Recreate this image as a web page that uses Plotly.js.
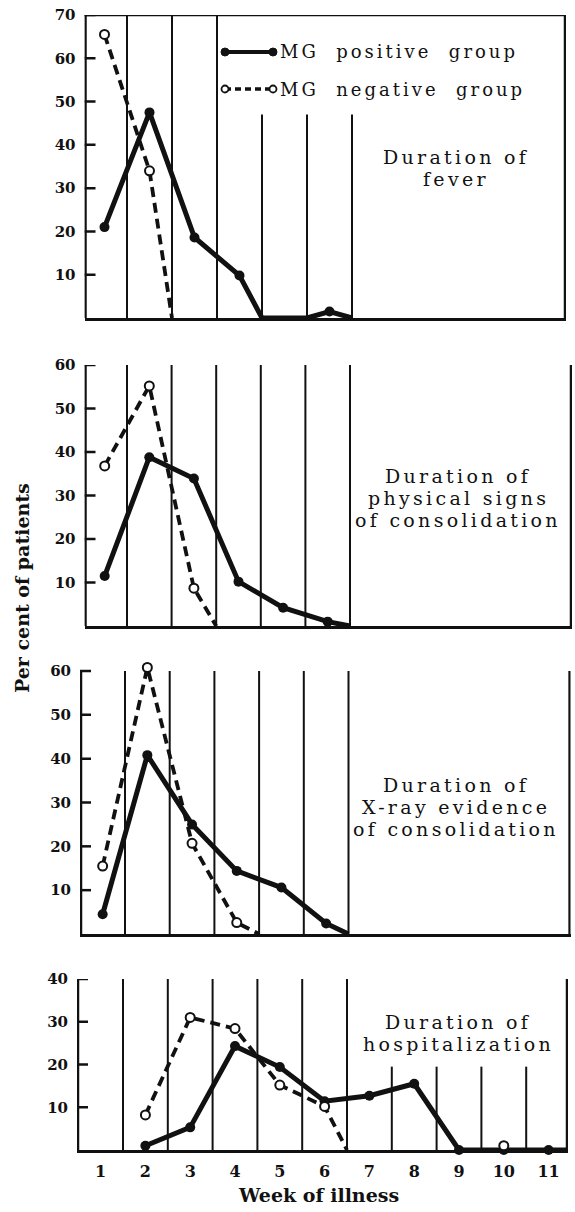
<!DOCTYPE html>
<html><head><meta charset="utf-8">
<script src="https://cdn.plot.ly/plotly-3.0.1.min.js"></script>
<style>
html,body{margin:0;padding:0;background:#fff;}
#chart{width:575px;height:1212px;}
</style></head><body><div id="chart"></div>
<script>
// ---- data ----
const weekTicks = [1,2,3,4,5,6,7,8,9,10,11];
const weekTickLabels = ['1','2','3','4','5','6','7','8','9','10','11'];

const feverPosWeek = [1,2,3,4,4.5,5.5,6,6.5];
const feverPosPct  = [21,47.5,18.6,9.8,0,0,1.5,0];
const feverNegWeek = [1,2,2.5];
const feverNegPct  = [65.5,34,0];

const physPosWeek = [1,2,3,4,5,6,6.5];
const physPosPct  = [11.5,38.8,33.9,10.2,4.2,1,0];
const physNegWeek = [1,2,3,3.5];
const physNegPct  = [36.8,55.2,8.7,0];

const xrayPosWeek = [1,2,3,4,5,6,6.5];
const xrayPosPct  = [4.5,40.8,25,14.4,10.6,2.4,0];
const xrayNegWeek = [1,2,3,4,4.5];
const xrayNegPct  = [15.5,60.8,20.7,2.6,0];

const hospPosWeek = [2,3,4,5,6,7,8,9,10,11,11.5];
const hospPosPct  = [1,5.3,24.3,19.4,11.4,12.7,15.5,0,0,0,0];
const hospNegWeek = [2,3,4,5,6,6.5,null,10];
const hospNegPct  = [8.2,31,28.4,15.2,10.2,0,null,1];

const panelLabels = [
  ['Duration of','fever'],
  ['Duration of','physical signs','of consolidation'],
  ['Duration of','X-ray evidence','of consolidation'],
  ['Duration of','hospitalization']
];
const legendLabels = ['MG  positive  group','MG  negative  group'];
const yTitle = 'Per cent of patients';
const xTitle = 'Week of illness';

// ---- layout geometry (pixels) ----
const W = 575, H = 1212;
const fx = p => p / W, fy = p => 1 - p / H;
const geom = [
  {left:84.5, right:566,   p15:127, p65:352,   top:15,  bottom:318,  ymax:70, head:0, box:true,
   full:[1.5,2.5,3.5], short:[4.5,5.5,6.5], shortTop:47, label:{x:456, y:168}},
  {left:84.5, right:572,   p15:127, p65:350,   top:365, bottom:626,  ymax:60, head:0,
   full:[1.5,2.5,3.5,4.5,5.5,6.5], short:[], shortTop:0, label:{x:458, y:498}},
  {left:80,   right:570.6, p15:125, p65:348.5, top:671, bottom:934,  ymax:60, head:1.6,
   full:[1.5,2.5,3.5,4.5,5.5,6.5], short:[], shortTop:0, label:{x:456, y:807}},
  {left:77,   right:568,   p15:123, p65:347,   top:979, bottom:1150, ymax:40, head:0,
   full:[1.5,2.5,3.5,4.5,5.5,6.5], short:[7.5,8.5,9.5,10.5], shortTop:19.5, label:{x:458, y:1033}}
];
const series = [
  [feverPosWeek, feverPosPct, feverNegWeek, feverNegPct],
  [physPosWeek, physPosPct, physNegWeek, physNegPct],
  [xrayPosWeek, xrayPosPct, xrayNegWeek, xrayNegPct],
  [hospPosWeek, hospPosPct, hospNegWeek, hospNegPct]
];

const BLACK = '#111';
const tickFont = {family:'DejaVu Serif', size:15, color:BLACK, weight:'bold'};
const textFont = {family:'DejaVu Serif', size:19, color:BLACK};
const spaced = (t, ls) => '<span style="letter-spacing:' + ls + 'px">' + t + '</span>';

const layout = {
  width:W, height:H, margin:{l:0,r:0,t:0,b:0},
  paper_bgcolor:'#fff', plot_bgcolor:'#fff', showlegend:false,
  shapes:[], annotations:[]
};
const traces = [];

function markerPts(xs, ys){
  const mx=[], my=[];
  xs.forEach((v,i)=>{ if(v!==null && Number.isInteger(v)){ mx.push(v); my.push(ys[i]); } });
  return [mx,my];
}

geom.forEach((g,i)=>{
  const n = i===0 ? '' : String(i+1);
  const xa = 'xaxis'+n, ya = 'yaxis'+n, xr = 'x'+n, yr = 'y'+n;
  const s = (g.p65 - g.p15)/5;
  const r0 = 1.5 + (g.left - g.p15)/s, r1 = 1.5 + (g.right - g.p15)/s;
  const last = i===3;
  const pxPerUnit = (g.bottom - g.top)/g.ymax;
  const yTopVal = g.ymax + g.head;        // headroom so a marker just above the top tick still draws
  const topPx = g.bottom - yTopVal*pxPerUnit;
  layout[xa] = {
    domain:[fx(g.left), fx(g.right)], range:[r0, r1], anchor:yr,
    showgrid:false, zeroline:false, showline:true, linecolor:BLACK, linewidth:2.5,
    showticklabels:last, tickvals: last ? weekTicks : [], ticktext: last ? weekTickLabels : [],
    ticks:'', ticklabelstandoff:5,
    tickfont:{family:'DejaVu Serif', size:16, color:BLACK, weight:'bold'}, fixedrange:true
  };
  const yt = []; for(let v=10; v<=g.ymax; v+=10) yt.push(v);
  layout[ya] = {
    domain:[fy(g.bottom), fy(topPx)], range:[0, yTopVal], anchor:xr,
    showgrid:false, zeroline:false, showline:false,
    tickvals:yt, ticktext:yt.map(String), ticks:'', ticklabelstandoff:8,
    tickfont:tickFont, fixedrange:true
  };
  // frame: left and right borders (and top for the first panel)
  [r0 + 1/s, r1 - 1/s].forEach(v=>layout.shapes.push({type:'line', xref:xr, yref:yr, x0:v, x1:v, y0:0, y1:g.ymax, line:{color:BLACK, width:2.5}}));
  if(g.box) layout.shapes.push({type:'line', xref:xr, yref:yr, x0:r0, x1:r1, y0:g.ymax, y1:g.ymax, line:{color:BLACK, width:2.5}});
  // inward tick marks on the left axis
  yt.forEach(v=>layout.shapes.push({type:'line', xref:xr, yref:yr, x0:r0, x1:r0 + 11/s, y0:v, y1:v, line:{color:BLACK, width:2.5}}));
  g.full.forEach(v=>layout.shapes.push({type:'line', xref:xr, yref:yr, x0:v, x1:v, y0:0, y1:g.ymax, line:{color:BLACK, width:2}}));
  g.short.forEach(v=>layout.shapes.push({type:'line', xref:xr, yref:yr, x0:v, x1:v, y0:0, y1:g.shortTop, line:{color:BLACK, width:2}}));

  const [px, py, nx, ny] = series[i];
  traces.push({x:nx, y:ny, xaxis:xr, yaxis:yr, mode:'lines', cliponaxis:false, connectgaps:false,
    line:{color:BLACK, width:3.8, dash:'10px,6px'}, hoverinfo:'skip'});
  traces.push({x:px, y:py, xaxis:xr, yaxis:yr, mode:'lines', cliponaxis:false, connectgaps:false,
    line:{color:BLACK, width:5}, hoverinfo:'skip'});
  const [pmx, pmy] = markerPts(px, py);
  const [nmx, nmy] = markerPts(nx, ny);
  traces.push({x:pmx, y:pmy, xaxis:xr, yaxis:yr, mode:'markers', cliponaxis:false,
    marker:{color:BLACK, size:10, symbol:'circle'}, hoverinfo:'skip'});
  traces.push({x:nmx, y:nmy, xaxis:xr, yaxis:yr, mode:'markers', cliponaxis:false,
    marker:{color:'#fff', size:9, symbol:'circle', line:{color:BLACK, width:2}}, hoverinfo:'skip'});

  const lines = panelLabels[i];
  lines.forEach((t,k)=>{
    layout.annotations.push({xref:'paper', yref:'paper', x:fx(g.label.x), y:fy(g.label.y + (k-(lines.length-1)/2)*21.5),
      text:spaced(t, 3.3), showarrow:false, xanchor:'center', yanchor:'middle', font:textFont});
  });
});

// legend key (decoration in panel 1)
const legY = [52, 89];
legY.forEach((yy,k)=>{
  layout.shapes.push({type:'line', xref:'paper', yref:'paper', x0:fx(225), x1:fx(273), y0:fy(yy), y1:fy(yy),
    line:{color:BLACK, width:k===0?3.8:3.4, dash:k===0?'solid':'6px,4px'}});
  [225,273].forEach(cx=>{
    const r = k===0 ? 4 : 3.5;
    layout.shapes.push({type:'circle', xref:'paper', yref:'paper', x0:fx(cx-r), x1:fx(cx+r), y0:fy(yy+r), y1:fy(yy-r),
      fillcolor:k===0?BLACK:'#fff', line:{color:BLACK, width:k===0?1:1.8}});
  });
  layout.annotations.push({xref:'paper', yref:'paper', x:fx(278), y:fy(yy), text:spaced(legendLabels[k], 3), showarrow:false,
    xanchor:'left', yanchor:'middle', font:{family:'DejaVu Serif', size:18, color:BLACK}});
});

layout.annotations.push({xref:'paper', yref:'paper', x:fx(22), y:fy(588), text:yTitle, textangle:-90,
  showarrow:false, xanchor:'center', yanchor:'middle', font:{family:'DejaVu Serif', size:19, color:BLACK, weight:'bold'}});
layout.annotations.push({xref:'paper', yref:'paper', x:fx(318), y:fy(1195), text:xTitle,
  showarrow:false, xanchor:'center', yanchor:'middle', font:{family:'DejaVu Serif', size:19, color:BLACK, weight:'bold'}});

Plotly.newPlot('chart', traces, layout, {staticPlot:true, displayModeBar:false});
</script></body></html>
